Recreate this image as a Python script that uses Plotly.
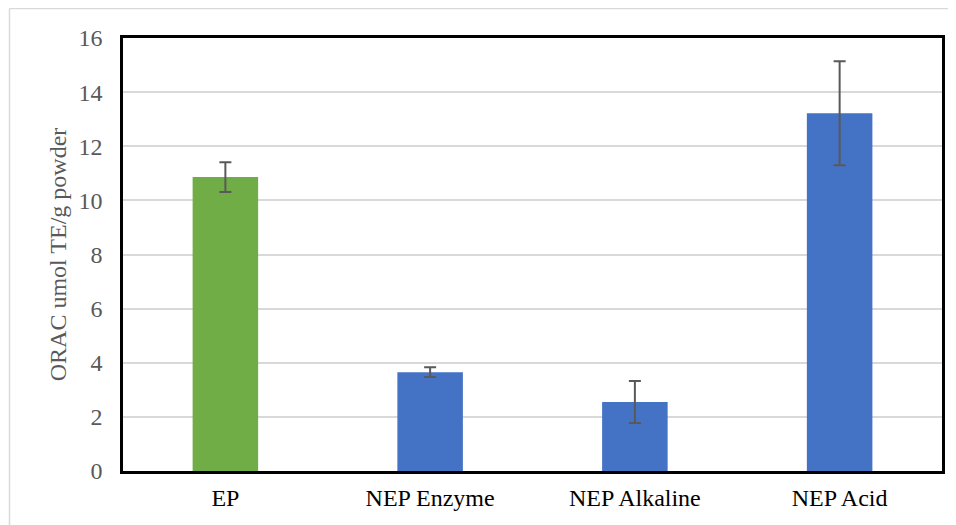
import plotly.graph_objects as go

categories = ["EP", "NEP Enzyme", "NEP Alkaline", "NEP Acid"]
values = [10.86, 3.65, 2.55, 13.22]
errors = [0.55, 0.18, 0.78, 1.92]
colors = ["#70AD47", "#4472C4", "#4472C4", "#4472C4"]
y_ticks = [0, 2, 4, 6, 8, 10, 12, 14, 16]

# page body has an 8px margin, so the figure is laid out in coordinates shifted by 8px
OFF = 8
W, H = 956, 525
ML, MT = 123 - OFF, 38 - OFF
MR = W - (942 - OFF)
MB = H - (471 - OFF)
PW, PH = W - ML - MR, H - MT - MB

fig = go.Figure(go.Bar(
    x=categories, y=values, marker=dict(color=colors, line=dict(width=0)),
    error_y=dict(type="data", array=errors, visible=True, color="#595959", thickness=2, width=6),
))

font = "Liberation Serif"
fig.update_layout(
    width=W, height=H, margin=dict(l=ML, r=MR, t=MT, b=MB, autoexpand=False),
    paper_bgcolor="white", plot_bgcolor="white", bargap=0.68, showlegend=False,
    font=dict(family=font),
)
fig.update_yaxes(
    range=[0, 16], tickvals=y_ticks, showgrid=True, gridcolor="#D9D9D9", gridwidth=1.5,
    showline=True, linecolor="black", linewidth=2.5, mirror=True, zeroline=False,
    tickfont=dict(size=24, color="#595959", family=font), ticks="", ticklabelstandoff=13,
    title=dict(text="ORAC umol TE/g powder", font=dict(size=24, color="#595959", family=font), standoff=6),
    automargin=False,
)
fig.update_xaxes(
    showline=True, linecolor="black", linewidth=2.5, mirror=True, showgrid=False,
    tickfont=dict(size=24, color="black", family=font), ticks="", ticklabelstandoff=3,
    automargin=False,
)
# light outer frame (left and top edges)
fx = (1.5 - ML) / PW
fy = (H - MB - 0.5) / PH
fig.add_shape(type="line", xref="paper", yref="paper", x0=fx, x1=(W - ML) / PW, y0=fy, y1=fy,
              line=dict(color="#D9D9D9", width=1.5))
fig.add_shape(type="line", xref="paper", yref="paper", x0=fx, x1=fx, y0=fy, y1=-(MB) / PH,
              line=dict(color="#D9D9D9", width=1.5))

fig.write_html("out.html")
